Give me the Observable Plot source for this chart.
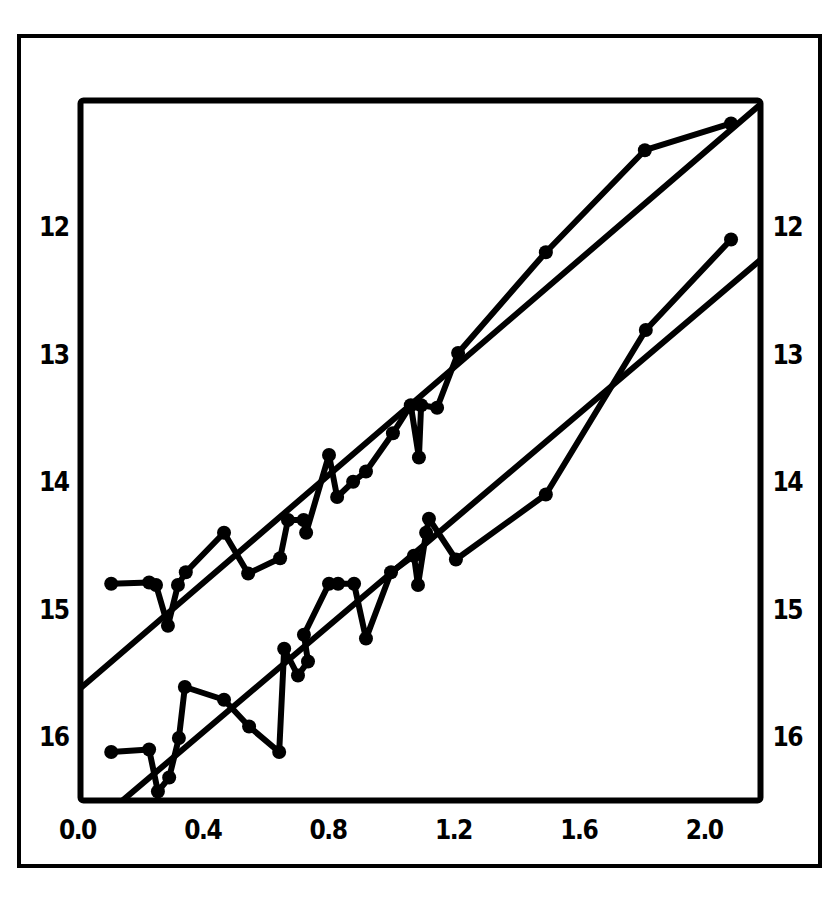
<!DOCTYPE html>
<html>
<head>
<meta charset="utf-8">
<script src="https://cdn.jsdelivr.net/npm/d3@7"></script>
<script src="https://cdn.jsdelivr.net/npm/@observablehq/plot@0.6"></script>
<style>
  html, body { margin: 0; padding: 0; background: #fff; }
  #wrap { position: relative; width: 838px; height: 910px; }
  #outer { position: absolute; left: 17px; top: 34px; width: 805px; height: 834px;
           border: 4px solid #000; box-sizing: border-box; pointer-events: none; }
  #chart { position: absolute; left: 0; top: 0; }
  #chart text { letter-spacing: -1.5px; }
</style>
</head>
<body>
<div id="wrap"><div id="chart"></div><div id="outer"></div></div>
<script>
// Upper series
const upperX = [0.108, 0.229, 0.251, 0.289, 0.321, 0.346, 0.468, 0.545, 0.647, 0.672, 0.722, 0.730,
                0.803, 0.829, 0.880, 0.921, 1.007, 1.064, 1.090, 1.097, 1.148, 1.215, 1.495, 1.811, 2.086];
const upperY = [14.79, 14.78, 14.80, 15.12, 14.80, 14.70, 14.39, 14.71, 14.59, 14.29, 14.29, 14.39,
                13.78, 14.11, 13.99, 13.91, 13.61, 13.39, 13.80, 13.39, 13.41, 12.98, 12.19, 11.39, 11.18];
// Lower series
const lowerX = [0.108, 0.229, 0.257, 0.293, 0.324, 0.343, 0.468, 0.548, 0.644, 0.660, 0.704, 0.736, 0.723,
                0.803, 0.832, 0.883, 0.921, 1.001, 1.074, 1.087, 1.113, 1.122, 1.208, 1.495, 1.814, 2.086];
const lowerY = [16.11, 16.09, 16.42, 16.31, 16.00, 15.60, 15.70, 15.91, 16.11, 15.30, 15.51, 15.40, 15.19,
                14.79, 14.79, 14.79, 15.22, 14.70, 14.57, 14.80, 14.39, 14.28, 14.60, 14.09, 12.80, 12.09];
// Fitted straight lines (end points)
const fitX = [0, 2.18];
const upperFitY = [15.63, 11.03];
const lowerFitY = [16.79, 12.25];
// Ticks
const xTicks = [0.0, 0.4, 0.8, 1.2, 1.6, 2.0];
const yTicks = [12, 13, 14, 15, 16];

const upper = upperX.map((x, i) => ({x, y: upperY[i]}));
const lower = lowerX.map((x, i) => ({x, y: lowerY[i]}));
const upFit = fitX.map((x, i) => ({x, y: upperFitY[i]}));
const loFit = fitX.map((x, i) => ({x, y: lowerFitY[i]}));

const font = "'DejaVu Sans Condensed', 'Liberation Sans', sans-serif";

const chart = Plot.plot({
  width: 838,
  height: 910,
  marginLeft: 80,
  marginRight: 78,
  marginTop: 100,
  marginBottom: 110,
  style: { fontFamily: font, fontSize: "26px", fontWeight: "bold", background: "transparent", overflow: "visible" },
  x: { domain: [0.01, 2.18] },
  y: { domain: [11.0, 16.49], reverse: true },
  marks: [
    Plot.line(upFit, { x: "x", y: "y", stroke: "#000", strokeWidth: 6, clip: true }),
    Plot.line(loFit, { x: "x", y: "y", stroke: "#000", strokeWidth: 6, clip: true }),
    Plot.line(upper, { x: "x", y: "y", stroke: "#000", strokeWidth: 6, strokeLinejoin: "round", strokeLinecap: "round" }),
    Plot.line(lower, { x: "x", y: "y", stroke: "#000", strokeWidth: 6, strokeLinejoin: "round", strokeLinecap: "round" }),
    Plot.dot(upper, { x: "x", y: "y", r: 7, fill: "#000", stroke: "none" }),
    Plot.dot(lower, { x: "x", y: "y", r: 7, fill: "#000", stroke: "none" }),
    Plot.frame({ stroke: "#000", strokeWidth: 6, rx: 3 }),
    Plot.axisX(xTicks, { tickSize: 0, tickPadding: 20, tickFormat: d3.format(".1f"), label: null, fontSize: 26 }),
    Plot.axisY(yTicks, { anchor: "left", tickSize: 0, tickPadding: 12, tickFormat: d3.format("d"), label: null, fontSize: 26 }),
    Plot.axisY(yTicks, { anchor: "right", tickSize: 0, tickPadding: 12, tickFormat: d3.format("d"), label: null, fontSize: 26 })
  ]
});
document.getElementById("chart").appendChild(chart);
</script>
</body>
</html>
